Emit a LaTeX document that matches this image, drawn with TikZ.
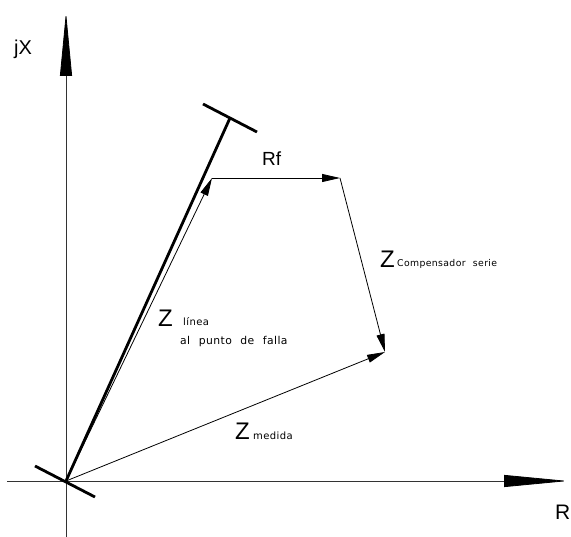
\documentclass[tikz,border=0pt]{standalone}
\usepackage{fontspec}
\setmainfont{Liberation Sans}
\newfontfamily\cadfont{DejaVu Sans}[LetterSpace=4, WordSpace=2.2]
\usetikzlibrary{arrows.meta, positioning}

\begin{document}
\begin{tikzpicture}[x=1pt, y=-1pt,
   axis/.style={line width=0.8pt, black!80},
   axistip/.style={-{Triangle[length=64pt, width=12pt, color=black]}},
   vec/.style={line width=0.8pt, -{Triangle[length=18pt, width=8pt]}},
   heavy/.style={line width=2.8pt},
   big/.style={font=\fontsize{24}{24}\selectfont, inner sep=0pt, anchor=base west},
   sub/.style={font=\cadfont\fontsize{10}{12}\selectfont, inner sep=0pt, anchor=base west}]
      \useasboundingbox (0,0) rectangle (571,537);
      % Points of the diagram
      \coordinate (O) at (66,481);
      \coordinate (L) at (230,118);
      \coordinate (F) at (212,178);
      \coordinate (C) at (340,178);
      \coordinate (M) at (385,352);
      \coordinate (xl) at (7,481);
      \coordinate (xr) at (568,481);
      \coordinate (yb) at (66,537);
      \coordinate (yt) at (66,12);
      % Axes
      \draw[axis, axistip] (yb) -- (yt);
      \draw[axis, axistip] (xl) -- (xr);
      \node[big, font=\fontsize{20}{20}\selectfont] (jx) at (14,55) {jX};
      \node[big, font=\fontsize{21}{21}\selectfont] (rr) at (555,520) {R};
      % Line up to the fault, with its end marks
      \draw[heavy] (O) -- (L);
      \draw[heavy] ([shift={(-27,-14)}]L) -- ([shift={(27,14)}]L);
      \draw[heavy] ([shift={(-31,-15)}]O) -- ([shift={(29,16)}]O);
      % Impedance vectors
      \draw[vec] (O) -- (F);
      \draw[vec] (F) -- (C);
      \draw[vec] (C) -- (M);
      \draw[vec] (O) -- (M);
      % Labels
      \node[big, font=\fontsize{19}{19}\selectfont] (rf) at (262,166) {Rf};
      \node[big] (zc) at (380,268) {Z};
      \node[sub, font=\cadfont\fontsize{9.3}{10}\selectfont] (zc1) at (397,267) {Compensador serie};
      \node[big] (zl) at (158,327) {Z};
      \node[sub] (zl1) at (183,326) {línea};
      \node[sub, font=\cadfont\fontsize{10.8}{12}\selectfont] (zl2) at (180,345) {al punto de falla};
      \node[big] (zm) at (235,440) {Z};
      \node[sub] (zm1) at (253,440) {medida};
   \end{tikzpicture}
\end{document}
